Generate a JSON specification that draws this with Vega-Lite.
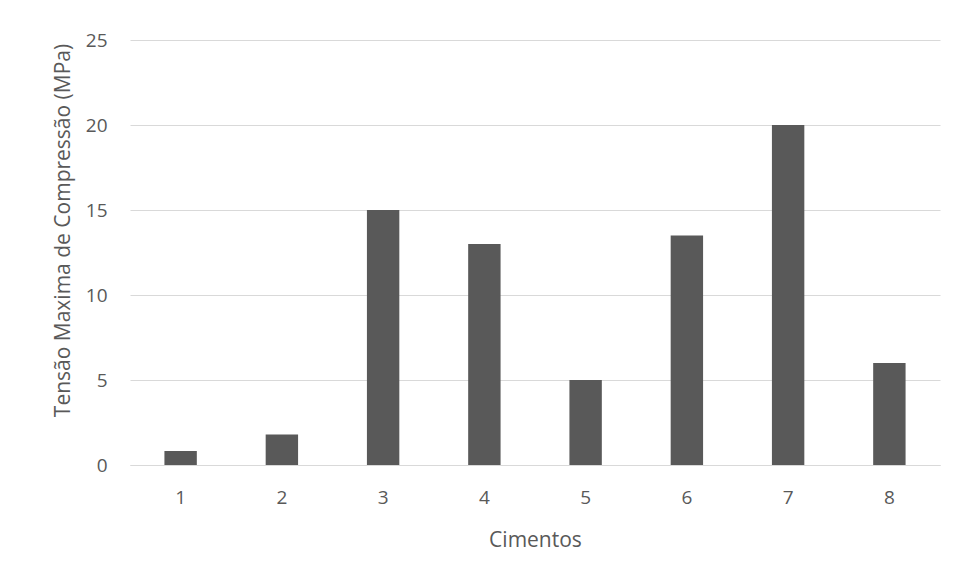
{
  "$schema": "https://vega.github.io/schema/vega-lite/v6.json",
  "autosize": "none",
  "width": 810,
  "height": 425,
  "padding": {"left": 130, "top": 40, "right": 16, "bottom": 111},
  "background": "white",
  "config": {
    "view": {"stroke": null},
    "font": "Open Sans",
    "axis": {
      "labelColor": "#595959",
      "titleColor": "#595959",
      "labelFont": "Open Sans",
      "titleFont": "Open Sans",
      "labelFontSize": 19,
      "titleFontSize": 21,
      "titleFontWeight": "normal",
      "gridColor": "#d9d9d9",
      "domainColor": "#d9d9d9",
      "ticks": false
    }
  },
  "data": {
    "values": [
      {"cimento": "1", "tensao": 0.82},
      {"cimento": "2", "tensao": 1.8},
      {"cimento": "3", "tensao": 15},
      {"cimento": "4", "tensao": 13},
      {"cimento": "5", "tensao": 5},
      {"cimento": "6", "tensao": 13.5},
      {"cimento": "7", "tensao": 20},
      {"cimento": "8", "tensao": 6}
    ]
  },
  "mark": {"type": "bar", "color": "#595959"},
  "encoding": {
    "x": {
      "field": "cimento",
      "type": "ordinal",
      "title": "Cimentos",
      "scale": {"paddingInner": 0.68, "paddingOuter": 0.34},
      "axis": {"labelAngle": 0, "labelPadding": 23, "titlePadding": 22, "grid": false, "domainWidth": 1}
    },
    "y": {
      "field": "tensao",
      "type": "quantitative",
      "title": "Tensão Maxima de Compressão (MPa)",
      "scale": {"domain": [0, 25]},
      "axis": {"values": [0, 5, 10, 15, 20, 25], "domain": false, "labelPadding": 23, "titlePadding": 12, "titleY": 190}
    }
  }
}
